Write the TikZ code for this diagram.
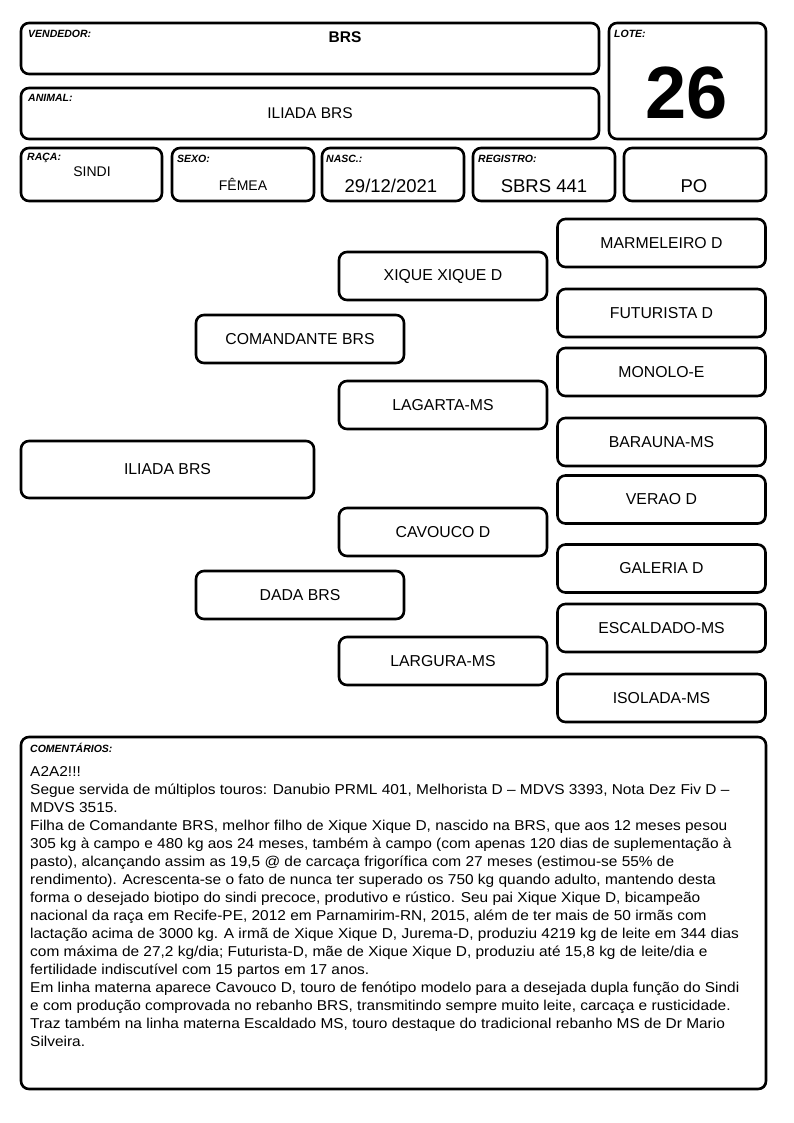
\documentclass[tikz,border=0pt]{standalone}
\usepackage{fontspec}
\setmainfont{Liberation Sans}
\newfontfamily\largofont[FakeStretch=1.08]{Liberation Sans}
\usepackage{tikz}
\usetikzlibrary{shadows}

\tikzset{
    caixa/.style={draw, fill=white, line width=2.6pt, rounded corners=8pt, inner sep=0pt,
        drop shadow={shadow xshift=0.9pt, shadow yshift=-0.9pt, opacity=1, fill=black}},
    rotulo/.style={anchor=north west, inner sep=0pt, font=\fontsize{10.5}{11}\selectfont\bfseries\itshape},
    valor/.style={inner sep=0pt, font=\fontsize{15.5}{17}\selectfont},
    grande/.style={inner sep=0pt, font=\fontsize{18.5}{20}\selectfont},
    avo/.style={caixa, minimum width=208pt, minimum height=48pt, font=\fontsize{15.8}{17}\selectfont},
}

\begin{document}
\begin{tikzpicture}[x=1pt, y=-1pt]
        \useasboundingbox (0,0) rectangle (794,1123);
        % Cabecalho
        \node[caixa, minimum width=578pt, minimum height=51pt] (vendedor) at (310,48.5) {};
        \node[rotulo] (vendedorrot) at (28,30) {VENDEDOR:};
        \node[valor, font=\fontsize{15.5}{17}\selectfont\bfseries] (vendedorval) at (345,37) {BRS};

        \node[caixa, minimum width=578pt, minimum height=51pt] (animal) at (310,113.5) {};
        \node[rotulo] (animalrot) at (28,94) {ANIMAL:};
        \node[valor] (animalval) at (310,113) {ILIADA BRS};

        \node[caixa, minimum width=157pt, minimum height=116pt] (lote) at (687.5,81) {};
        \node[rotulo] (loterot) at (614,30) {LOTE:};
        \node[inner sep=0pt, font=\fontsize{74}{74}\selectfont\bfseries] (loteval) at (687,93) {26};

        \node[caixa, minimum width=141pt, minimum height=53pt] (raca) at (91.5,174.5) {};
        \node[rotulo] (racarot) at (27,153) {RAÇA:};
        \node[valor, font=\fontsize{14}{16}\selectfont] (racaval) at (92,172) {SINDI};

        \node[caixa, minimum width=142pt, minimum height=53pt] (sexo) at (243,174.5) {};
        \node[rotulo] (sexorot) at (177,155) {SEXO:};
        \node[valor, font=\fontsize{14}{16}\selectfont] (sexoval) at (243,184) {FÊMEA};

        \node[caixa, minimum width=142pt, minimum height=53pt] (nasc) at (393,174.5) {};
        \node[rotulo] (nascrot) at (326,155) {NASC.:};
        \node[grande] (nascval) at (391,186) {29/12/2021};

        \node[caixa, minimum width=142pt, minimum height=53pt] (registro) at (544,174.5) {};
        \node[rotulo] (registrorot) at (478,155) {REGISTRO:};
        \node[grande] (registroval) at (544,186) {SBRS 441};

        \node[caixa, minimum width=142pt, minimum height=53pt] (po) at (695,174.5) {};
        \node[grande] (poval) at (694,186) {PO};

        % Genealogia
        \node[caixa, minimum width=293pt, minimum height=57pt, font=\fontsize{15.8}{17}\selectfont] (iliada) at (167.5,469.5) {ILIADA BRS};

        \node[avo] (comandante) at (300,339) {COMANDANTE BRS};
        \node[avo] (dada) at (300,595) {DADA BRS};

        \node[avo] (xique) at (443,276) {XIQUE XIQUE D};
        \node[avo] (lagarta) at (443,405) {LAGARTA-MS};
        \node[avo] (cavouco) at (443,532) {CAVOUCO D};
        \node[avo] (largura) at (443,661) {LARGURA-MS};

        \node[avo] (marmeleiro) at (661.5,243) {MARMELEIRO D};
        \node[avo] (futurista) at (661.5,313) {FUTURISTA D};
        \node[avo] (monolo) at (661.5,372) {MONOLO-E};
        \node[avo] (barauna) at (661.5,442) {BARAUNA-MS};
        \node[avo] (verao) at (661.5,499.5) {VERAO D};
        \node[avo] (galeria) at (661.5,568.5) {GALERIA D};
        \node[avo] (escaldado) at (661.5,628) {ESCALDADO-MS};
        \node[avo] (isolada) at (661.5,698) {ISOLADA-MS};

        % Comentarios
        \node[caixa, minimum width=745pt, minimum height=352pt] (comentarios) at (393.5,913) {};
        \node[rotulo] (comentariosrot) at (30,743) {COMENTÁRIOS:};
        \node[anchor=north west, inner sep=0pt, align=left, font=\largofont\fontsize{14.3}{18}\selectfont] (comentariostxt) at (30,766.5) {%
A2A2!!!\\
Segue servida de múltiplos touros: Danubio PRML 401, Melhorista D – MDVS 3393, Nota Dez Fiv D –\\
MDVS 3515.\\
Filha de Comandante BRS, melhor filho de Xique Xique D, nascido na BRS, que aos 12 meses pesou\\
305 kg à campo e 480 kg aos 24 meses, também à campo (com apenas 120 dias de suplementação à\\
pasto), alcançando assim as 19,5 @ de carcaça frigorífica com 27 meses (estimou-se 55\% de\\
rendimento). Acrescenta-se o fato de nunca ter superado os 750 kg quando adulto, mantendo desta\\
forma o desejado biotipo do sindi precoce, produtivo e rústico. Seu pai Xique Xique D, bicampeão\\
nacional da raça em Recife-PE, 2012 em Parnamirim-RN, 2015, além de ter mais de 50 irmãs com\\
lactação acima de 3000 kg. A irmã de Xique Xique D, Jurema-D, produziu 4219 kg de leite em 344 dias\\
com máxima de 27,2 kg/dia; Futurista-D, mãe de Xique Xique D, produziu até 15,8 kg de leite/dia e\\
fertilidade indiscutível com 15 partos em 17 anos.\\
Em linha materna aparece Cavouco D, touro de fenótipo modelo para a desejada dupla função do Sindi\\
e com produção comprovada no rebanho BRS, transmitindo sempre muito leite, carcaça e rusticidade.\\
Traz também na linha materna Escaldado MS, touro destaque do tradicional rebanho MS de Dr Mario\\
Silveira.};
    \end{tikzpicture}
\end{document}
